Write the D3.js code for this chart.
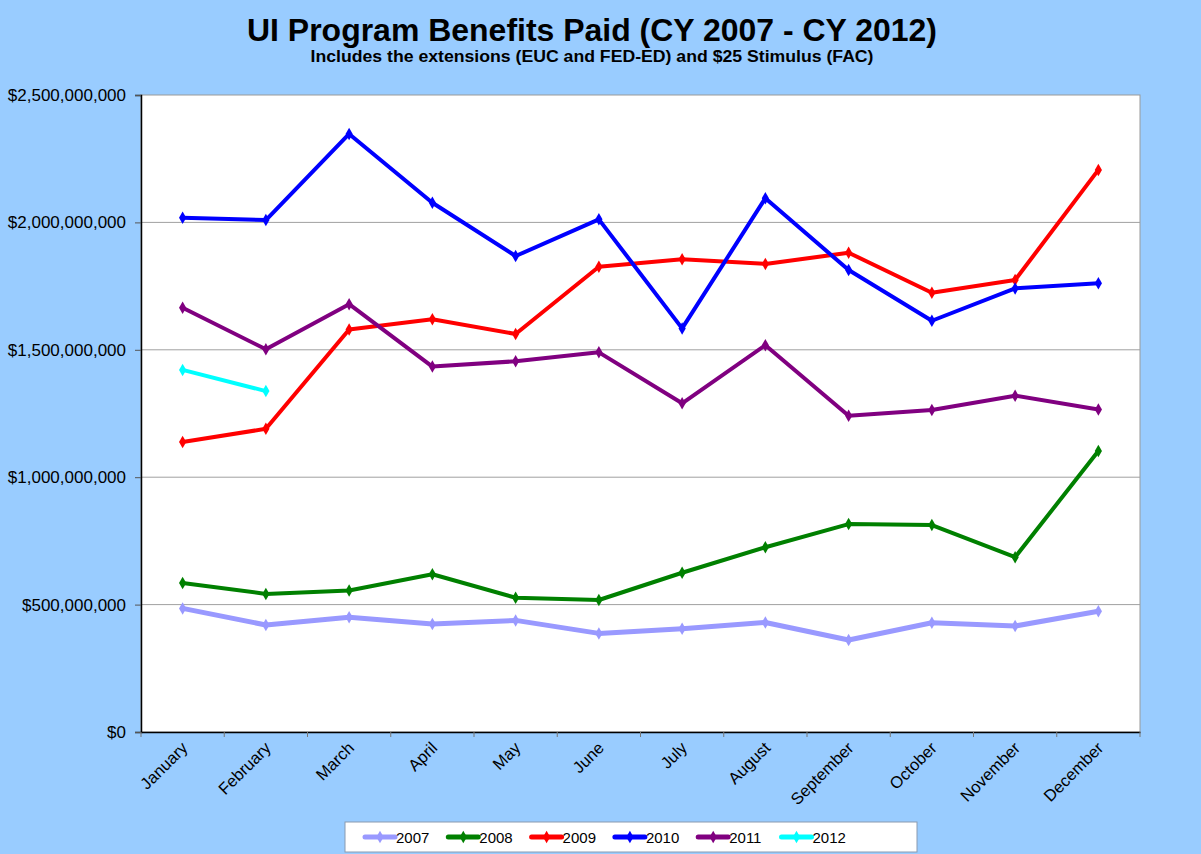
<!DOCTYPE html>
<html>
<head>
<meta charset="utf-8">
<script src="https://cdn.jsdelivr.net/npm/d3@7"></script>
<style>
  body { margin: 0; background: #99ccff; }
  svg { display: block; font-family: "Liberation Sans", Arial, sans-serif; }
</style>
</head>
<body>
<svg id="chart"></svg>
<script>
var months = ['January', 'February', 'March', 'April', 'May', 'June', 'July',
  'August', 'September', 'October', 'November', 'December'];
var years = ['2007', '2008', '2009', '2010', '2011', '2012'];
var colors = ['#9999ff', '#008000', '#ff0000', '#0000ff', '#800080', '#00ffff'];
// millions of dollars
var y2007 = [485, 420, 450, 424, 438, 387, 405, 430, 361, 429, 416, 474];
var y2008 = [585, 542, 555, 619, 527, 518, 625, 725, 816, 812, 686, 1103];
var y2009 = [1138, 1190, 1580, 1620, 1562, 1826, 1855, 1837, 1881, 1724, 1774, 2206];
var y2010 = [2018, 2009, 2347, 2077, 1868, 2012, 1584, 2095, 1813, 1614, 1741, 1761];
var y2011 = [1665, 1502, 1679, 1434, 1455, 1490, 1290, 1518, 1241, 1264, 1320, 1266];
var y2012 = [1421, 1338];
var yTicks = [0, 500, 1000, 1500, 2000, 2500];

var series = [y2007, y2008, y2009, y2010, y2011, y2012];

var W = 1201, H = 854;
var margins = {top: 95, bottom: 122, left: 141, right: 61};
var width = W - margins.left - margins.right;
var height = H - margins.top - margins.bottom;

var svg = d3.select('#chart').attr('width', W).attr('height', H);

svg.append('rect').attr('width', W).attr('height', H).style('fill', '#99ccff');

svg.append('text')
  .attr('x', 592).attr('y', 41)
  .attr('text-anchor', 'middle')
  .style('font-size', '32px').style('font-weight', 'bold')
  .attr('textLength', 690).attr('lengthAdjust', 'spacingAndGlyphs')
  .text('UI Program Benefits Paid (CY 2007 - CY 2012)');
svg.append('text')
  .attr('x', 592).attr('y', 62)
  .attr('text-anchor', 'middle')
  .style('font-size', '16px').style('font-weight', 'bold')
  .attr('textLength', 563).attr('lengthAdjust', 'spacingAndGlyphs')
  .text('Includes the extensions (EUC and FED-ED) and $25 Stimulus (FAC)');

var g = svg.append('g').attr('transform', `translate(${margins.left}, ${margins.top})`);

var xBand = d3.scaleBand().domain(months).range([0, width]);
var xScale = d => xBand(d) + xBand.bandwidth() / 2;
var yScale = d3.scaleLinear().domain([0, 2500]).range([height, 0]);

g.append('rect').attr('width', width).attr('height', height)
  .style('fill', 'white').style('stroke', '#999').style('stroke-width', 1);

g.selectAll('line.grid')
  .data(yTicks.slice(1, -1))
  .enter()
  .append('line')
  .attr('class', 'grid')
  .attr('x1', 0).attr('x2', width)
  .attr('y1', d => yScale(d)).attr('y2', d => yScale(d))
  .style('stroke', '#a0a0a0').style('stroke-width', 1);

var yAxis = g.append('g')
  .call(d3.axisLeft(yScale).tickValues(yTicks).tickSize(6).tickPadding(9)
    .tickFormat(d => d3.format('$,')(d * 1e6)));
yAxis.select('.domain').style('stroke', 'black').style('stroke-width', 1.5);
yAxis.selectAll('.tick line').style('stroke', '#555');
yAxis.selectAll('text').style('font-size', '17px').style('fill', 'black')
  .style('font-family', '"Liberation Sans", Arial, sans-serif');

var xAxis = g.append('g')
  .attr('transform', `translate(0, ${height})`)
  .call(d3.axisBottom(xBand).tickSize(0).tickPadding(0));
xAxis.select('.domain').style('stroke', 'black').style('stroke-width', 1.5);
xAxis.selectAll('text')
  .style('font-size', '16.5px').style('fill', 'black')
  .style('font-family', '"Liberation Sans", Arial, sans-serif')
  .attr('text-anchor', 'end')
  .attr('dy', 0)
  .attr('transform', 'translate(6, 17) rotate(-45)');
xAxis.selectAll('line.sep')
  .data(d3.range(months.length + 1))
  .enter()
  .append('line')
  .attr('class', 'sep')
  .attr('x1', i => i * xBand.bandwidth()).attr('x2', i => i * xBand.bandwidth())
  .attr('y1', 0).attr('y2', 5)
  .style('stroke', '#777');

var line = d3.line().x((d, i) => xScale(months[i])).y(d => yScale(d));
var diamond = d3.symbol().type(d3.symbolDiamond).size(45);

series.forEach(function(vals, k) {
  var s = g.append('g').attr('class', 'series');
  s.append('path')
    .datum(vals)
    .attr('d', line)
    .style('fill', 'none')
    .style('stroke', colors[k])
    .style('stroke-width', k === 0 ? 5 : 4)
    .style('stroke-linejoin', 'round');
  s.selectAll('path.pt')
    .data(vals)
    .enter()
    .append('path')
    .attr('class', 'pt')
    .attr('d', diamond)
    .attr('transform', (d, i) => `translate(${xScale(months[i])}, ${yScale(d)})`)
    .style('fill', colors[k]);
});

// legend
var legend = svg.append('g').attr('transform', 'translate(345, 822)');
legend.append('rect').attr('width', 572).attr('height', 30)
  .style('fill', 'white').style('stroke', '#8a9ab0').style('stroke-width', 1);
var items = legend.selectAll('g.item')
  .data(years)
  .enter()
  .append('g')
  .attr('class', 'item')
  .attr('transform', (d, i) => `translate(${20 + i * 83.3}, 15)`);
items.append('line')
  .attr('x1', 0).attr('x2', 30).attr('y1', 0).attr('y2', 0)
  .style('stroke', (d, i) => colors[i]).style('stroke-width', 5)
  .style('stroke-linecap', 'round');
items.append('path')
  .attr('d', diamond)
  .attr('transform', 'translate(15, 0)')
  .style('fill', (d, i) => colors[i]);
items.append('text')
  .attr('x', 31).attr('y', 5.5)
  .style('font-size', '15px')
  .text(d => d);
</script>
</body>
</html>
